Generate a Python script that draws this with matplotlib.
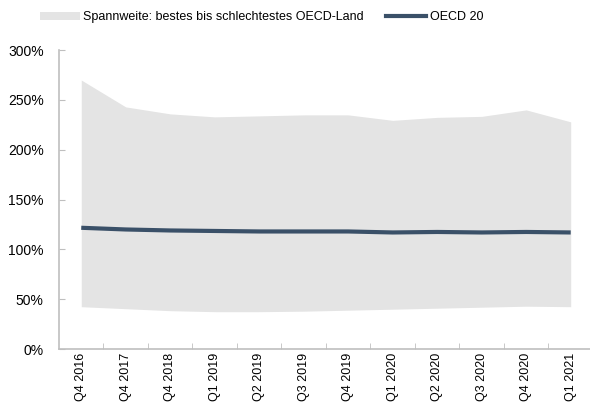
import matplotlib.pyplot as plt
from matplotlib.patches import Patch
from matplotlib.lines import Line2D
from matplotlib.ticker import PercentFormatter

plt.rcParams['font.family'] = ['Liberation Sans', 'DejaVu Sans']

quarters = ["Q4 2016", "Q4 2017", "Q4 2018", "Q1 2019", "Q2 2019", "Q3 2019",
            "Q4 2019", "Q1 2020", "Q2 2020", "Q3 2020", "Q4 2020", "Q1 2021"]
upper = [270, 243, 236, 233, 234, 235, 235, 229.5, 232.5, 233.5, 240, 228]
lower = [42.5, 40.5, 38.5, 37.5, 37.5, 38, 39, 40, 41, 42, 43, 42.5]
oecd20 = [121.7, 120, 119, 118.5, 118, 118, 118, 117, 117.5, 117, 117.5, 117]

fill_color = "#E4E4E4"
line_color = "#3A5068"
axis_color = "#BFBFBF"

fig = plt.figure(figsize=(5.9, 4.04), dpi=100)
ax = fig.add_axes([0.1, 0.136, 0.905, 0.74])

x = range(len(quarters))
ax.fill_between(x, lower, upper, color=fill_color, linewidth=0)
ax.plot(x, oecd20, color=line_color, linewidth=3, solid_capstyle="butt")

ax.set_ylim(0, 300)
ax.set_yticks(range(0, 301, 50))
ax.yaxis.set_major_formatter(PercentFormatter(decimals=0))
ax.set_xlim(-0.5, len(quarters) - 0.5)
ax.set_xticks(list(x))
ax.set_xticklabels(quarters, rotation=90, va="top")
ax.set_xticks([i + 0.5 for i in range(len(quarters) - 1)], minor=True)

for side in ["top", "right"]:
    ax.spines[side].set_visible(False)
for side in ["left", "bottom"]:
    ax.spines[side].set_color(axis_color)
    ax.spines[side].set_linewidth(1.2)

ax.tick_params(axis="y", direction="in", length=4, color=axis_color, labelsize=10, pad=11)
ax.tick_params(axis="x", which="major", length=0, labelsize=9, pad=3)
ax.tick_params(axis="x", which="minor", direction="in", length=4, color=axis_color)

handles = [Patch(facecolor=fill_color, edgecolor="none"),
           Line2D([], [], color=line_color, linewidth=3)]
labels = ["Spannweite: bestes bis schlechtestes OECD-Land", "OECD 20"]
fig.legend(handles, labels, loc="upper left", bbox_to_anchor=(0.048, 1.0), ncol=2,
           frameon=False, fontsize=9, handlelength=3.2, handletextpad=0.3,
           columnspacing=1.8)

fig.savefig("out.png", dpi=100)
